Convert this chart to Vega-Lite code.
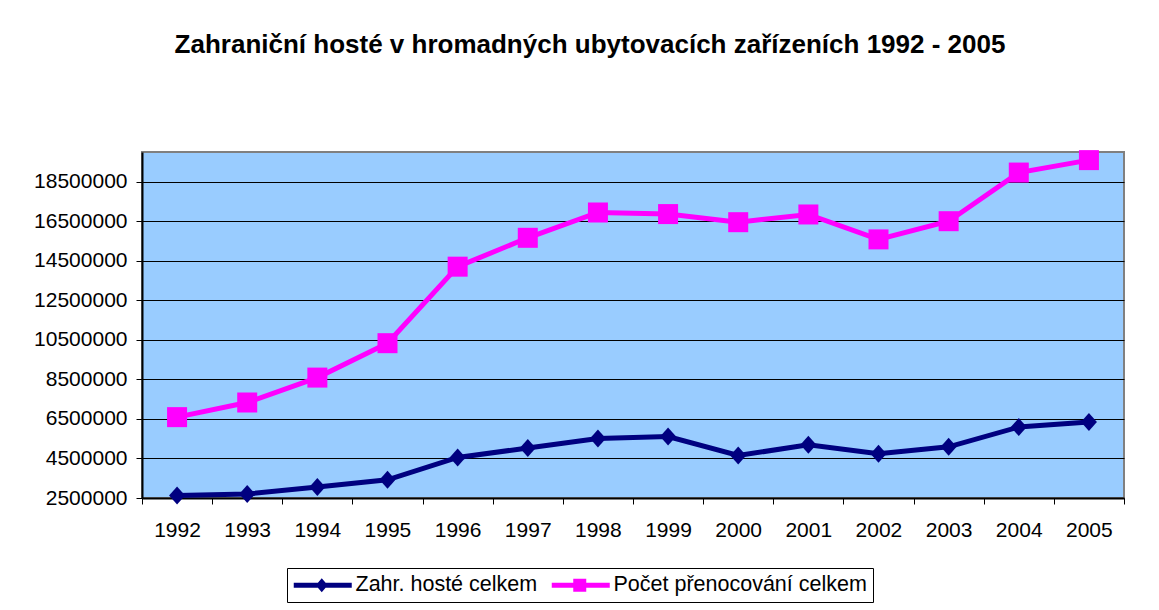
{
  "$schema": "https://vega.github.io/schema/vega-lite/v6.json",
  "width": 982,
  "height": 346,
  "autosize": {"type": "none"},
  "padding": {"left": 142, "top": 152, "right": 35, "bottom": 112},
  "background": "white",
  "title": {
    "text": "Zahraniční hosté v hromadných ubytovacích zařízeních 1992 - 2005",
    "font": "Liberation Sans",
    "fontSize": 26,
    "fontWeight": "bold",
    "color": "black",
    "anchor": "middle",
    "dx": -43,
    "offset": 71,
    "baseline": "alphabetic"
  },
  "config": {
    "view": {"fill": "#99CCFF", "stroke": "#808080", "strokeWidth": 2},
    "axis": {
      "labelFont": "Liberation Sans",
      "labelFontSize": 21,
      "labelColor": "black",
      "tickColor": "black",
      "tickSize": 6,
      "tickWidth": 1,
      "domainColor": "black",
      "domainWidth": 2,
      "title": null
    }
  },
  "data": {
    "values": [
      {"year": 1992, "series": "Zahr. hosté celkem", "value": 2630000},
      {"year": 1993, "series": "Zahr. hosté celkem", "value": 2700000},
      {"year": 1994, "series": "Zahr. hosté celkem", "value": 3060000},
      {"year": 1995, "series": "Zahr. hosté celkem", "value": 3420000},
      {"year": 1996, "series": "Zahr. hosté celkem", "value": 4550000},
      {"year": 1997, "series": "Zahr. hosté celkem", "value": 5030000},
      {"year": 1998, "series": "Zahr. hosté celkem", "value": 5510000},
      {"year": 1999, "series": "Zahr. hosté celkem", "value": 5610000},
      {"year": 2000, "series": "Zahr. hosté celkem", "value": 4650000},
      {"year": 2001, "series": "Zahr. hosté celkem", "value": 5190000},
      {"year": 2002, "series": "Zahr. hosté celkem", "value": 4740000},
      {"year": 2003, "series": "Zahr. hosté celkem", "value": 5090000},
      {"year": 2004, "series": "Zahr. hosté celkem", "value": 6090000},
      {"year": 2005, "series": "Zahr. hosté celkem", "value": 6340000},
      {"year": 1992, "series": "Počet přenocování celkem", "value": 6590000},
      {"year": 1993, "series": "Počet přenocování celkem", "value": 7330000},
      {"year": 1994, "series": "Počet přenocování celkem", "value": 8590000},
      {"year": 1995, "series": "Počet přenocování celkem", "value": 10330000},
      {"year": 1996, "series": "Počet přenocování celkem", "value": 14200000},
      {"year": 1997, "series": "Počet přenocování celkem", "value": 15660000},
      {"year": 1998, "series": "Počet přenocování celkem", "value": 16940000},
      {"year": 1999, "series": "Počet přenocování celkem", "value": 16860000},
      {"year": 2000, "series": "Počet přenocování celkem", "value": 16450000},
      {"year": 2001, "series": "Počet přenocování celkem", "value": 16840000},
      {"year": 2002, "series": "Počet přenocování celkem", "value": 15580000},
      {"year": 2003, "series": "Počet přenocování celkem", "value": 16500000},
      {"year": 2004, "series": "Počet přenocování celkem", "value": 18960000},
      {"year": 2005, "series": "Počet přenocování celkem", "value": 19590000}
    ]
  },
  "encoding": {
    "x": {
      "field": "year",
      "type": "quantitative",
      "scale": {"domain": [1991.5, 2005.5], "nice": false, "zero": false},
      "axis": {
        "values": [1991.5, 1992.5, 1993.5, 1994.5, 1995.5, 1996.5, 1997.5, 1998.5, 1999.5, 2000.5, 2001.5, 2002.5, 2003.5, 2004.5, 2005.5],
        "labelExpr": "datum.value < 2005 ? format(datum.value + 0.5, 'd') : ''",
        "labelOffset": 35,
        "labelPadding": 15,
        "labelOverlap": false,
        "labelFlush": false,
        "labelBound": false,
        "grid": false
      }
    },
    "y": {
      "field": "value",
      "type": "quantitative",
      "scale": {"domain": [2500000, 20000000], "nice": false, "zero": false},
      "axis": {
        "values": [2500000, 4500000, 6500000, 8500000, 10500000, 12500000, 14500000, 16500000, 18500000],
        "format": "d",
        "labelPadding": 9,
        "grid": true,
        "gridColor": "black",
        "gridWidth": 1,
        "gridOpacity": 1
      }
    },
    "color": {
      "field": "series",
      "type": "nominal",
      "scale": {"domain": ["Zahr. hosté celkem", "Počet přenocování celkem"], "range": ["#000080", "#FF00FF"]},
      "legend": {
        "orient": "none",
        "legendX": 145,
        "legendY": 416,
        "direction": "horizontal",
        "title": null,
        "labelFont": "Liberation Sans",
        "labelFontSize": 21.5,
        "labelColor": "black",
        "labelLimit": 400,
        "symbolSize": 400,
        "symbolStrokeWidth": 0,
        "symbolOpacity": 1,
        "labelOffset": 41,
        "columnPadding": 13,
        "padding": 6,
        "strokeColor": "black",
        "fillColor": "white",
        "cornerRadius": 0,
        "encode": {
          "symbols": {
            "update": {
              "shape": {"signal": "datum.value === 'Zahr. hosté celkem' ? 'M-1,-0.25L4.8,-0.25L4.8,0.25L-1,0.25Z M1.2,0L1.8,-0.7L2.4,0L1.8,0.7Z' : 'M-1,-0.25L4.8,-0.25L4.8,0.25L-1,0.25Z M1.15,-0.65L2.45,-0.65L2.45,0.65L1.15,0.65Z'"},
              "fill": {"signal": "datum.value === 'Zahr. hosté celkem' ? '#000080' : '#FF00FF'"},
              "fillOpacity": {"value": 1},
              "opacity": {"value": 1},
              "strokeWidth": {"value": 0}
            }
          }
        }
      }
    }
  },
  "layer": [
    {
      "mark": {"type": "line", "strokeWidth": 5}
    },
    {
      "transform": [{"filter": "datum.series === 'Zahr. hosté celkem'"}],
      "mark": {"type": "point", "filled": true, "opacity": 1, "size": 400, "strokeWidth": 0, "shape": "M-0.8,0L0,-0.9L0.8,0L0,0.9Z"}
    },
    {
      "transform": [{"filter": "datum.series === 'Počet přenocování celkem'"}],
      "mark": {"type": "point", "filled": true, "opacity": 1, "size": 400, "strokeWidth": 0, "shape": "square"}
    }
  ]
}
